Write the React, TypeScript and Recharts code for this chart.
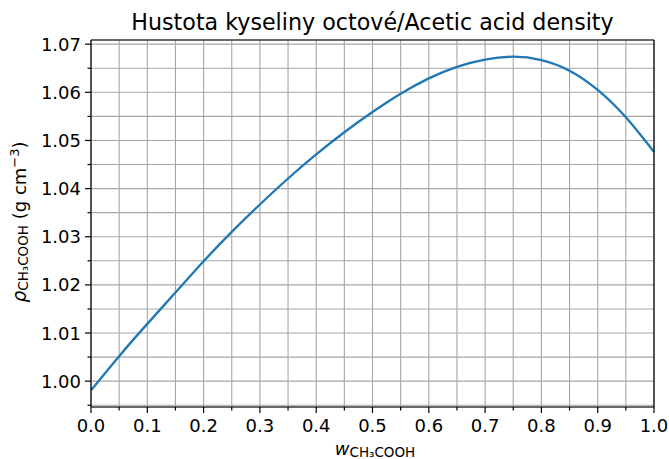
import { CartesianGrid, Label, Line, LineChart, XAxis, YAxis } from 'recharts'

// mass fraction of acetic acid
const fractions = [
  0, 0.05, 0.1, 0.15, 0.2, 0.25, 0.3, 0.35, 0.4, 0.45, 0.5, 0.55, 0.6, 0.65, 0.7,
  0.75, 0.8, 0.85, 0.9, 0.95, 1.0,
]
// density in g/cm3
const densities = [
  0.9981, 1.0052, 1.0119, 1.0184, 1.0249, 1.031, 1.0367, 1.0421, 1.0471, 1.0517,
  1.0559, 1.0597, 1.0629, 1.0653, 1.0668, 1.0674, 1.0667, 1.0645, 1.0605, 1.0548,
  1.0476,
]

const xTicks = [
  0, 0.05, 0.1, 0.15, 0.2, 0.25, 0.3, 0.35, 0.4, 0.45, 0.5, 0.55, 0.6, 0.65, 0.7,
  0.75, 0.8, 0.85, 0.9, 0.95, 1.0,
]
const yTicks = [
  0.995, 1.0, 1.005, 1.01, 1.015, 1.02, 1.025, 1.03, 1.035, 1.04, 1.045, 1.05,
  1.055, 1.06, 1.065, 1.07,
]

const data = fractions.map((w, i) => ({ w, rho: densities[i] }))

const lo = Math.min(...densities)
const hi = Math.max(...densities)
const pad = (hi - lo) * 0.05
const yDomain = [lo - pad, hi + pad]

const FONT = 'DejaVu Sans, sans-serif'

const isMajor = (v: number, step: number) =>
  Math.abs(v / step - Math.round(v / step)) < 1e-6

const XTick = (props: any) => {
  const { x, y, payload } = props
  const v = payload.value as number
  const major = isMajor(v, 0.1)
  return (
    <g>
      <line x1={x} x2={x} y1={y} y2={y + (major ? 6 : 3.5)} stroke="#000" strokeWidth={1.2} />
      {major && (
        <text x={x} y={y + 25} textAnchor="middle" fontSize={18} fontFamily={FONT} fill="#000">
          {v.toFixed(1)}
        </text>
      )}
    </g>
  )
}

const YTick = (props: any) => {
  const { x, y, payload } = props
  const v = payload.value as number
  const major = isMajor(v, 0.01)
  return (
    <g>
      <line x1={x} x2={x - (major ? 6 : 3.5)} y1={y} y2={y} stroke="#000" strokeWidth={1.2} />
      {major && (
        <text x={x - 10} y={y + 6.5} textAnchor="end" fontSize={18} fontFamily={FONT} fill="#000">
          {v.toFixed(2)}
        </text>
      )}
    </g>
  )
}

export default function App() {
  return (
    <div style={{ position: 'absolute', left: 0, top: 0, background: '#fff' }}>
      <LineChart
        width={669}
        height={459}
        data={data}
        margin={{ top: 39, right: 14, bottom: 0, left: 0 }}
      >
        <text x={372.5} y={30} textAnchor="middle" fontSize={22.2} fontFamily={FONT} fill="#000">
          Hustota kyseliny octové/Acetic acid density
        </text>
        <CartesianGrid stroke="#a6a6a6" strokeWidth={1.1} />
        <XAxis
          dataKey="w"
          type="number"
          domain={[0, 1]}
          ticks={xTicks}
          interval={0}
          height={52}
          tickSize={0}
          tickMargin={0}
          tick={<XTick />}
          axisLine={{ stroke: '#000', strokeWidth: 1.2 }}
        >
          <Label
            content={() => (
              <text x={375} y={455} textAnchor="middle" fontFamily={FONT} fill="#000">
                <tspan fontSize={18} fontStyle="italic">w</tspan>
                <tspan fontSize={13.5} dy={2}>CH₃COOH</tspan>
              </text>
            )}
          />
        </XAxis>
        <XAxis
          xAxisId="top"
          orientation="top"
          type="number"
          domain={[0, 1]}
          height={1}
          tick={false}
          tickLine={false}
          axisLine={{ stroke: '#000', strokeWidth: 1.2 }}
        />
        <YAxis
          type="number"
          domain={yDomain}
          ticks={yTicks}
          interval={0}
          width={91}
          tickSize={0}
          tickMargin={0}
          tick={<YTick />}
          axisLine={{ stroke: '#000', strokeWidth: 1.2 }}
          allowDataOverflow
        >
          <Label
            content={() => (
              <text
                x={26}
                y={222}
                transform="rotate(-90 26 222)"
                textAnchor="middle"
                fontFamily={FONT}
                fill="#000"
              >
                <tspan fontSize={18.5} fontStyle="italic">ρ</tspan>
                <tspan fontSize={13.5} dy={2}>CH₃COOH</tspan>
                <tspan fontSize={18} dy={-2}> (g cm</tspan>
                <tspan fontSize={13} dy={-7}>−3</tspan>
                <tspan fontSize={18} dy={7}>)</tspan>
              </text>
            )}
          />
        </YAxis>
        <YAxis
          yAxisId="right"
          orientation="right"
          type="number"
          domain={yDomain}
          width={1}
          tick={false}
          tickLine={false}
          axisLine={{ stroke: '#000', strokeWidth: 1.2 }}
        />
        <Line
          type="natural"
          dataKey="rho"
          stroke="#1f77b4"
          strokeWidth={2.3}
          dot={false}
          isAnimationActive={false}
        />
      </LineChart>
    </div>
  )
}
